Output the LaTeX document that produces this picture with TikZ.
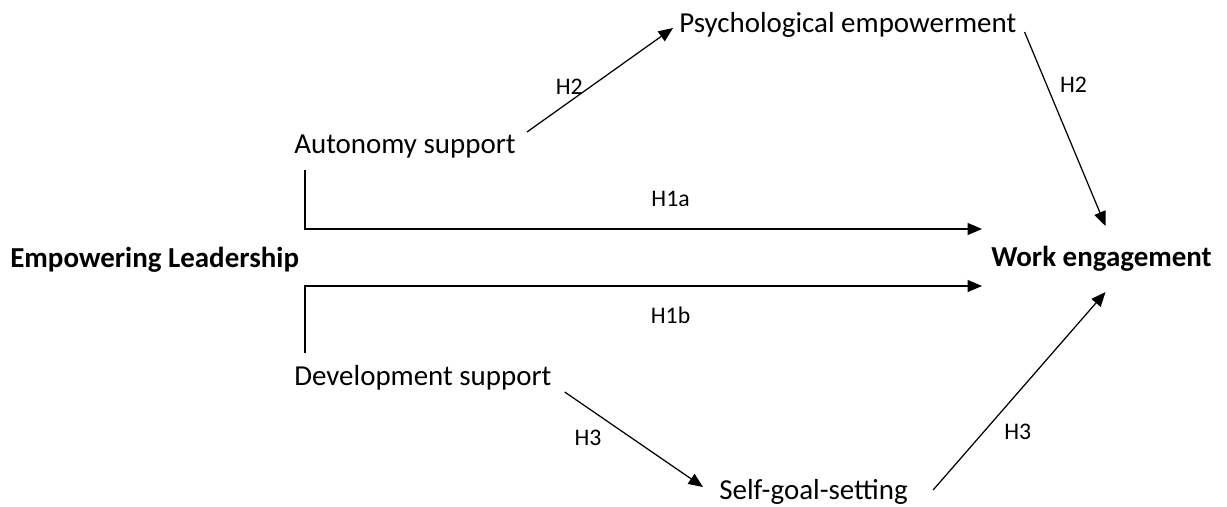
\documentclass[tikz,border=0pt]{standalone}
\usepackage{fontspec}
\setmainfont{Carlito}
\usetikzlibrary{arrows.meta}
\usetikzlibrary{calc}

\begin{document}
\begin{tikzpicture}[x=0.017cm,y=-0.017cm,font=\fontsize{14}{17}\selectfont,
    arr/.style={-{Triangle[length=7pt,width=5.8pt]},line width=0.6pt},
    hyp/.style={font=\fontsize{11.5}{14}\selectfont}]
                \useasboundingbox (0,0) rectangle (1227,506);
                \node[anchor=base west] (lead) at (3,267) {\textbf{Empowering Leadership}};
                \node[anchor=base west] (work) at (984,266) {\textbf{Work engagement}};
                \node[anchor=base west] (aut) at (287,153) {Autonomy support};
                \node[anchor=base west] (dev) at (287,385) {Development support};
                \node[anchor=base west] (psy) at (672,32) {Psychological empowerment};
                \node[anchor=base west] (self) at (712,499) {Self-goal-setting};
                \draw[arr] ($(aut.base east)+(4,-21)$) to node[hyp,pos=0.29,above] {H2} ($(psy.base west)+(1,-4)$);
                \draw[arr] ($(psy.base east)+(1,0)$) to node[hyp,pos=0.27,right=3pt] {H2} ($(work.base)+(4,-40)$);
                \draw[arr] ($(aut.base west)+(18,17)$) |- node[hyp,pos=0.77,above=7pt] {H1a} ($(work.base west)+(-2,-37)$);
                \draw[arr] ($(dev.base west)+(18,-32)$) |- node[hyp,pos=0.77,below=6.5pt] {H1b} ($(work.base west)+(-2,20)$);
                \draw[arr] ($(dev.base east)+(6,7)$) to node[hyp,pos=0.32,below left] {H3} ($(self.base west)+(-9,-12)$);
                \draw[arr] ($(self.base east)+(18,-9)$) to node[hyp,pos=0.37,below right] {H3} ($(work.base)+(4,26)$);
            \end{tikzpicture}
\end{document}
